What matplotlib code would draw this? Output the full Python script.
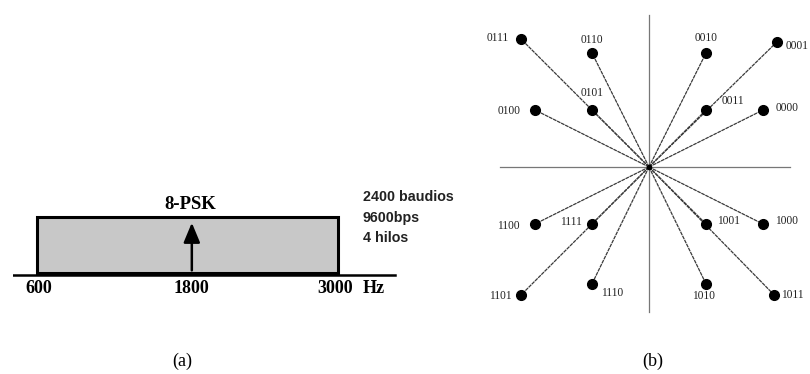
import matplotlib.pyplot as plt
from matplotlib.patches import Rectangle

plt.rcParams['font.family'] = ['Liberation Serif', 'DejaVu Serif']

# (a) banda de voz
banda_hz = [600, 3000]
portadora_hz = 1800
ticks_hz = [600, 1800, 3000]
ticks_txt = ["600", "1800", "3000"]
info_modem = ["2400 baudios", "9600bps", "4 hilos"]

# (b) constelacion de 16 puntos
simbolos = ["0111", "0110", "0010", "0001",
            "0100", "0101", "0011", "0000",
            "1100", "1111", "1001", "1000",
            "1101", "1110", "1010", "1011"]
comp_i = [-2.25, -1.0, 1.0, 2.25,
          -2.0, -1.0, 1.0, 2.0,
          -2.0, -1.0, 1.0, 2.0,
          -2.25, -1.0, 1.0, 2.2]
comp_q = [2.25, 2.0, 2.0, 2.2,
          1.0, 1.0, 1.0, 1.0,
          -1.0, -1.0, -1.0, -1.0,
          -2.25, -2.05, -2.05, -2.25]
# desplazamiento de cada etiqueta respecto a su punto (en unidades del eje)
desp_etq = [(-0.40, 0.02), (0.0, 0.23), (0.0, 0.26), (0.14, -0.07),
            (-0.46, -0.02), (0.0, 0.30), (0.47, 0.16), (0.42, 0.04),
            (-0.46, -0.04), (-0.37, 0.04), (0.39, 0.05), (0.42, 0.05),
            (-0.35, -0.02), (0.35, -0.16), (-0.05, -0.21), (0.32, 0.0)]
alin_etq = ['center'] * 3 + ['left'] + ['center'] * 12

fig = plt.figure(figsize=(8.1, 3.74), dpi=100)

## panel (a)
W, H = 810, 374
ax1 = fig.add_axes([13 / W, 1 - 300 / H, (400 - 13) / W, 150 / H])
ax1.set_xlim(409, 409 + 387 / 0.1254)
ax1.set_ylim(-0.48, 2.2)
ax1.axis('off')

ax1.add_patch(Rectangle((banda_hz[0], 0.0), banda_hz[1] - banda_hz[0], 1.0,
                        facecolor='#c8c8c8', edgecolor='black', lw=2.2, zorder=2))
ax1.plot([409, 409 + 382 / 0.1254], [-0.03, -0.03], color='black', lw=1.8, zorder=3)
ax1.annotate("", xy=(portadora_hz + 35, 0.95), xytext=(portadora_hz + 35, 0.0),
             arrowprops=dict(arrowstyle='-|>,head_width=0.5,head_length=1.2',
                             color='black', lw=1.8), zorder=4)
ax1.text(portadora_hz + 20, 1.22, "8-PSK", ha='center', va='center',
         fontsize=13.5, fontweight='bold')
# las etiquetas de frecuencia van un poco corridas respecto al borde
corr_txt = [15, 35, -25]
for f, t, c in zip(ticks_hz, ticks_txt, corr_txt):
    ax1.text(f + c, -0.27, t, ha='center', va='center', fontsize=13, fontweight='bold')
ax1.text(3195, -0.27, "Hz", ha='left', va='center', fontsize=13, fontweight='bold')
for k, linea in enumerate(info_modem):
    ax1.text(3200, 1.36 - 0.37 * k, linea, ha='left', va='center', fontsize=10.3,
             fontweight='bold', family=['Liberation Sans', 'DejaVu Sans'], color='#222222')

## panel (b)
esc = 57.0
cx, cy = 649, 167
x0, x1, y0, y1 = -2.9, 2.9, -2.65, 2.9
ax2 = fig.add_axes([(cx + x0 * esc) / W, 1 - (cy - y0 * esc) / H,
                    (x1 - x0) * esc / W, (y1 - y0) * esc / H])
ax2.set_xlim(x0, x1)
ax2.set_ylim(y0, y1)
ax2.axis('off')

ax2.plot([-2.61, 2.47], [0, 0], color='#777777', lw=0.9)
ax2.plot([0, 0], [-2.54, 2.67], color='#777777', lw=0.9)
for i, q in zip(comp_i, comp_q):
    ax2.plot([0, i], [0, q], color='#3a3a3a', lw=0.9, ls=(0, (3, 0.6)))
ax2.plot(comp_i, comp_q, 'o', color='black', ms=7, zorder=5)
ax2.plot([0], [0], 'o', color='black', ms=3, zorder=5)
for s, i, q, (dx, dy), ha in zip(simbolos, comp_i, comp_q, desp_etq, alin_etq):
    ax2.text(i + dx, q + dy, s, ha=ha, va='center', fontsize=8.3, color='#222222')

fig.text(182 / W, 1 - 361 / H, "(a)", ha='center', va='center', fontsize=13)
fig.text(653 / W, 1 - 361 / H, "(b)", ha='center', va='center', fontsize=13)

fig.savefig("out.png", dpi=100)
